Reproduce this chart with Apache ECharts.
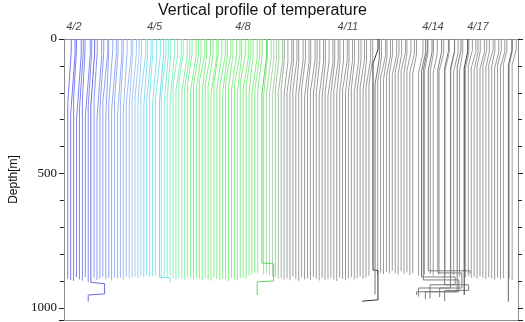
<!DOCTYPE html>
<html><head><meta charset="utf-8">
<script src="https://cdn.jsdelivr.net/npm/echarts@6/dist/echarts.min.js"></script>
<style>html,body{margin:0;padding:0;background:#fff}#c{width:525px;height:322px}</style>
</head><body><div id="c"></div>
<script>
// ---- data ----
const dateLabels = ['4/2','4/5','4/8','4/11','4/14','4/17'];
const dateIndex = [2.1, 29.7, 59.9, 95.8, 124.9, 140.3];

// per-profile (index 0..152): surface offset (index units), slant start/end depth, bottom depth
const offTop = [
 1.2,1.5,1.0,1.6,1.3,0.9,1.7,1.2,1.5,1.1,1.6,1.3,1.7,1.0,1.4,1.6,1.2,1.5,1.0,1.3,1.7,1.2,1.5,
 1.4,1.2,1.7,1.3,1.5,1.1,1.4,1.7,1.2,1.6,1.4,1.2,1.5,
 1.6,1.8,1.5,1.9,1.7,1.5,1.9,1.7,1.6,1.9,1.5,1.8,1.7,2.0,1.5,1.7,1.9,1.6,1.8,1.5,1.7,1.9,1.5,1.7,1.9,1.6,1.4,1.8,1.7,1.5,1.7,1.3,1.6,1.5,1.4,
 1.2,1.5,1.1,1.3,1.6,1.2,1.4,1.0,1.5,1.3,1.5,1.1,1.6,1.3,1.2,1.5,1.1,1.4,1.7,1.3,1.5,1.1,1.3,1.6,1.2,1.4,1.1,1.5,1.3,1.5,
 1.2,1.6,1.3,1.1,1.5,1.3,1.7,1.2,1.4,1.1,1.5,1.3,1.2,1.5,1.0,1.4,1.6,1.3,1.1,1.5,
 1.3,1.2,1.5,1.1,1.4,1.3,1.6,1.2,1.5,1.1,1.3,1.5,1.3,1.1,1.5,1.2,1.4,1.6,1.3,1.1,
 1.5,1.3,1.2,1.5,1.1,1.4,1.3,1.5,1.2,1.3,1.1,1.4
];
const slantStart = [
 45,55,40,60,50,42,58,48,52,44,62,50,46,56,40,54,48,60,44,52,58,46,50,
 55,60,52,64,58,50,62,56,60,54,58,62,56,
 58,62,55,60,64,57,61,59,63,56,60,62,58,65,57,61,59,63,56,60,62,58,64,57,61,59,63,66,60,62,64,68,66,70,72,
 75,80,72,84,78,82,76,86,80,74,88,82,78,84,80,86,90,82,88,84,80,86,82,78,84,80,76,82,78,74,80,76,72,70,66,68,62,64,
 60,55,58,52,56,50,54,48,52,56,50,54,48,52,46,50,54,48,52,46,50,44,48,52,46,50,44,48,42,46,50,44,48,42,46,40,44,48,42,46,40,44,42,40
];
const slantEnd = [
 240,280,220,300,260,230,290,250,270,225,295,255,235,285,245,265,230,290,250,270,240,260,230,
 220,240,210,250,230,215,245,225,235,210,240,220,230,
 170,190,160,200,180,165,195,175,185,160,190,170,180,200,165,185,175,195,160,180,190,170,200,165,185,175,195,205,185,190,200,210,200,205,210,
 190,200,185,205,195,200,190,210,200,185,215,200,195,205,200,210,215,200,210,205,195,205,200,190,200,195,185,195,190,180,190,180,170,165,155,160,145,150,
 140,130,135,125,130,120,128,118,125,130,120,126,115,122,112,118,125,115,120,110,118,108,115,120,110,118,105,112,100,108,115,104,110,100,106,96,102,110,98,104,95,100,98,95
];
const bottomDepth = [
 892,897,900,886,894,899,885,905,890,888,896,891,884,893,889,897,886,891,888,894,885,890,887,
 884,889,882,886,880,885,883,879,886,888,881,884,880,
 889,893,887,891,895,886,890,894,888,892,897,890,894,899,888,893,897,891,895,900,889,894,898,890,886,893,880,875,870,873,868,876,871,878,883,
 886,892,888,895,890,897,884,893,899,887,894,890,896,885,892,898,889,895,891,887,894,900,888,893,897,890,886,894,889,884,891,887,880,876,872,878,870,874,
 866,872,862,870,876,864,873,868,878,871,875,880,872,877,869,874,880,873,876,871,878,882,875,879,873,884,880,887,882,889,885,891,884,888,893,886,890,895,887,892,889,894,890,896
];

// long / irregular profiles: [index position, depth] pairs
const profBlue   = [[9.2,0],[9.2,50],[7.9,250],[7.9,905],[12.6,910],[12.6,948],[7.0,952],[7.0,977]];
const profCyan   = [[32.8,0],[32.8,56],[31.4,230],[31.4,886],[35.0,888],[35.0,905]];
const profGreen  = [[68.0,0],[68.0,66],[66.4,205],[66.4,833],[70.4,836],[70.4,900],[64.8,903],[64.8,952]];
const profMar11  = [[106.1,0],[106.1,40],[104.4,90],[104.4,859],[106.1,861],[106.1,970],[100.7,975]];
const profMar11b = [[106.6,0],[106.6,70],[105.1,170],[105.1,862],[105.1,950]];
const profT1 = [[124.6,0],[124.6,48],[123.3,118],[123.3,862],[137.6,862],[137.6,872]];
const profT2 = [[127.9,0],[127.9,46],[126.6,112],[126.6,870],[134.8,870],[134.8,926],[127.2,926],[127.2,960]];
const profT3 = [[122.4,0],[122.4,50],[121.0,120],[121.0,885],[132.5,885],[132.5,914],[123.9,914],[123.9,965]];
const profT4 = [[123.0,0],[123.0,44],[121.6,115],[121.6,896],[133.8,896],[133.8,940],[119.3,940],[119.3,952]];
const profT5 = [[130.2,0],[130.2,46],[128.9,108],[128.9,914],[137.1,914],[137.1,935],[128.9,935],[128.9,975]];
const profT6 = [[132.3,0],[132.3,44],[130.9,110],[130.9,926],[120.0,926],[120.0,958]];
const profT7 = [[134.5,0],[134.5,42],[133.2,104],[133.2,940],[122.3,940],[122.3,968]];
const profMar17 = [[136.8,0],[136.8,45],[135.6,110],[135.6,952]];
const profLast  = [[151.9,0],[151.9,42],[150.7,98],[150.7,977]];

// ---- styles ----
const colorStops = [[0,'#7878f0'],[14,'#94a8f2'],[22,'#a8c8f4'],[28,'#84e6f6'],[36,'#90f0c0'],[44,'#86ee8e'],[64,'#8cee8c'],[70,'#aad6aa'],[75,'#9c9c9c'],[152,'#9c9c9c']];
function hex2rgb(h){return [1,3,5].map(k=>parseInt(h.substr(k,2),16));}
function colorAt(i){
  for(let k=0;k<colorStops.length-1;k++){
    const [a,ca]=colorStops[k],[b,cb]=colorStops[k+1];
    if(i>=a&&i<=b){const t=(i-a)/(b-a);const A=hex2rgb(ca),B=hex2rgb(cb);
      return 'rgb('+A.map((v,j)=>Math.round(v+(B[j]-v)*t)).join(',')+')';}
  }
  return '#9c9c9c';
}
const replaced = new Set([8,31,66,104,105,119,121,123,126,128,130,133,135,150]);
const tangleColor = '#7c7c7c';
const specials = [
  [profBlue,'#6a6ae8'],[profCyan,'#70e0f0'],[profGreen,'#60d860'],
  [profMar11,'#333'],[profMar11b,'#777'],
  [profT1,tangleColor],[profT2,tangleColor],[profT3,tangleColor],[profT4,tangleColor],[profT5,tangleColor],[profT6,tangleColor],[profT7,tangleColor],
  [profMar17,'#3a3a3a'],[profLast,'#666']
];

const series = [];
for(let i=0;i<bottomDepth.length;i++){
  if(replaced.has(i)) continue;
  series.push({type:'line',silent:true,symbol:'none',animation:false,
    data:[[i+offTop[i],0],[i+offTop[i],slantStart[i]],[i,slantEnd[i]],[i,bottomDepth[i]]],
    lineStyle:{width:1,color:colorAt(i)}});
}
specials.forEach(([p,c])=>series.push({type:'line',silent:true,symbol:'none',animation:false,z:3,
  data:p,lineStyle:{width:1,color:c}}));
series.push({type:'scatter',clip:false,silent:true,animation:false,symbolSize:1,
  itemStyle:{color:'rgba(0,0,0,0)'},
  data:dateIndex.map(x=>[x,0]),
  label:{show:true,position:'top',distance:6,formatter:p=>dateLabels[p.dataIndex],
    fontStyle:'italic',fontSize:11,color:'#111',fontFamily:'Liberation Sans'}});

const yBase = {type:'value',inverse:true,min:0,max:1045,interval:500,splitLine:{show:false},
  axisLine:{show:true,onZero:false,lineStyle:{color:'#8c8c8c'}},
  axisTick:{show:true,inside:false,length:5,lineStyle:{color:'#222'}},
  minorTick:{show:true,splitNumber:5,length:4,lineStyle:{color:'#222'}}};
const chart = echarts.init(document.getElementById('c'));
chart.setOption({
  backgroundColor:'#fff',
  title:{text:'Vertical profile of temperature',left:'center',top:3,padding:0,
    textStyle:{fontFamily:'Liberation Sans',fontSize:16,fontWeight:'normal',color:'#111'}},
  grid:{left:48,right:7,top:39,bottom:2},
  xAxis:[
    {type:'value',min:-1.32,max:154,position:'bottom',axisLine:{show:true,onZero:false,lineStyle:{color:'#8c8c8c'}},axisTick:{show:false},axisLabel:{show:false},splitLine:{show:false}},
    {type:'value',min:-1.32,max:154,position:'top',axisLine:{show:true,onZero:false,lineStyle:{color:'#8c8c8c'}},axisTick:{show:false},axisLabel:{show:false},splitLine:{show:false}}
  ],
  yAxis:[
    Object.assign({},yBase,{position:'left',name:'Depth[m]',nameLocation:'middle',nameGap:38,
      nameTextStyle:{fontFamily:'Liberation Sans',fontSize:12,color:'#111'},
      axisLabel:{show:true,margin:7,fontFamily:'Liberation Serif',fontSize:13,color:'#111',formatter:v=>String(v)}}),
    Object.assign({},yBase,{position:'right',axisLabel:{show:false}})
  ],
  series:series
});
</script></body></html>
